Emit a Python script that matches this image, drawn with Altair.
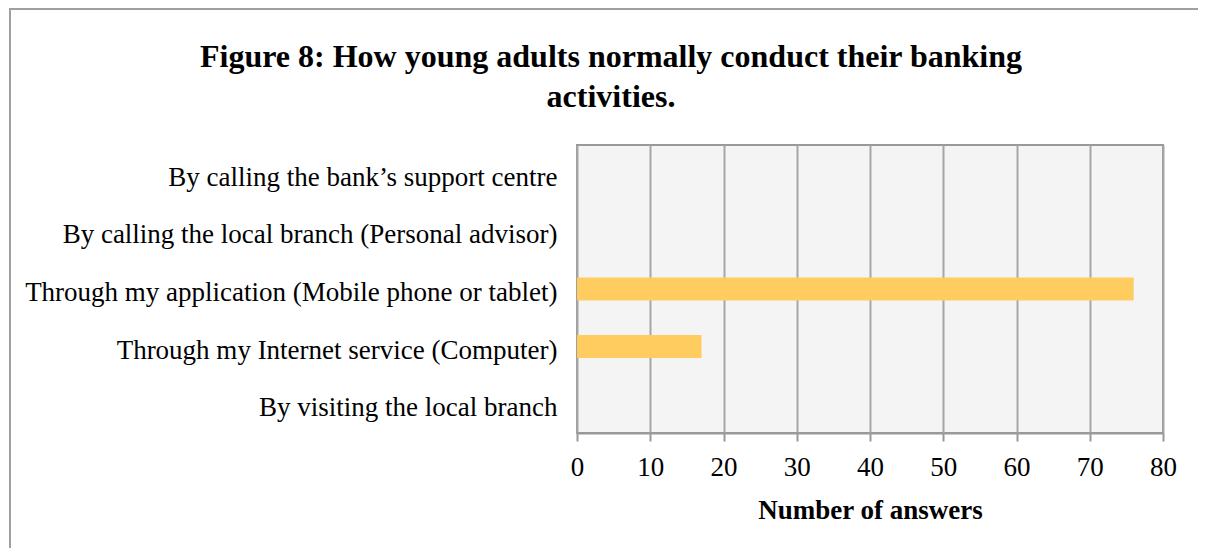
import altair as alt
import pandas as pd

categories = [
    "By calling the bank\u2019s support centre",
    "By calling the local branch (Personal advisor)",
    "Through my application (Mobile phone or tablet)",
    "Through my Internet service (Computer)",
    "By visiting the local branch",
]
answers = [0, 0, 76, 17, 0]
x_ticks = [0, 10, 20, 30, 40, 50, 60, 70, 80]

df = pd.DataFrame({"method": categories, "answers": answers})

W, H = 586, 288
FONT = "Liberation Serif"

bars = alt.Chart(df).mark_bar(color="#FFCC5F").encode(
    x=alt.X(
        "answers:Q",
        scale=alt.Scale(domain=[0, 80], nice=False),
        axis=alt.Axis(
            values=x_ticks,
            title="Number of answers",
            titleFont=FONT,
            titleFontSize=27,
            titleFontWeight="bold",
            titleColor="#000000",
            titlePadding=17,
            labelFont=FONT,
            labelFontSize=27,
            labelColor="#000000",
            labelPadding=13,
            labelFlush=False,
            tickSize=8,
            tickColor="#999999",
            tickWidth=2,
            domainColor="#999999",
            domainWidth=2,
            grid=True,
            gridColor="#A6A6A6",
            gridWidth=2,
        ),
    ),
    y=alt.Y(
        "method:N",
        sort=categories,
        scale=alt.Scale(paddingInner=0.6, paddingOuter=0.3),
        axis=alt.Axis(
            title=None,
            labelFont=FONT,
            labelFontSize=27,
            labelColor="#000000",
            labelPadding=20,
            labelOffset=4,
            ticks=False,
            domain=False,
            grid=False,
            labelLimit=700,
        ),
    ),
)

frame = alt.Chart(pd.DataFrame({"a": [0]})).mark_rect(
    fill=None, stroke="#A0A0A0", strokeWidth=2, clip=False
).encode(
    x=alt.value(-567),
    x2=alt.value(W + 200),
    y=alt.value(-136),
    y2=alt.value(H + 200),
)

chart = alt.layer(frame, bars).properties(
    width=W,
    height=H,
    autosize=alt.AutoSizeParams(type="none"),
    padding={"left": 569, "top": 137, "right": 35, "bottom": 115},
    title=alt.TitleParams(
        text=["Figure 8: How young adults normally conduct their banking", "activities."],
        font=FONT,
        fontSize=32,
        fontWeight="bold",
        color="#000000",
        anchor="middle",
        frame="group",
        dx=-259,
        offset=-106,
        lineHeight=40,
    ),
).configure_view(
    fill="#F4F4F4", stroke="#999999", strokeWidth=2
)

chart.save("out.html", embed_options={"renderer": "svg", "actions": False})
